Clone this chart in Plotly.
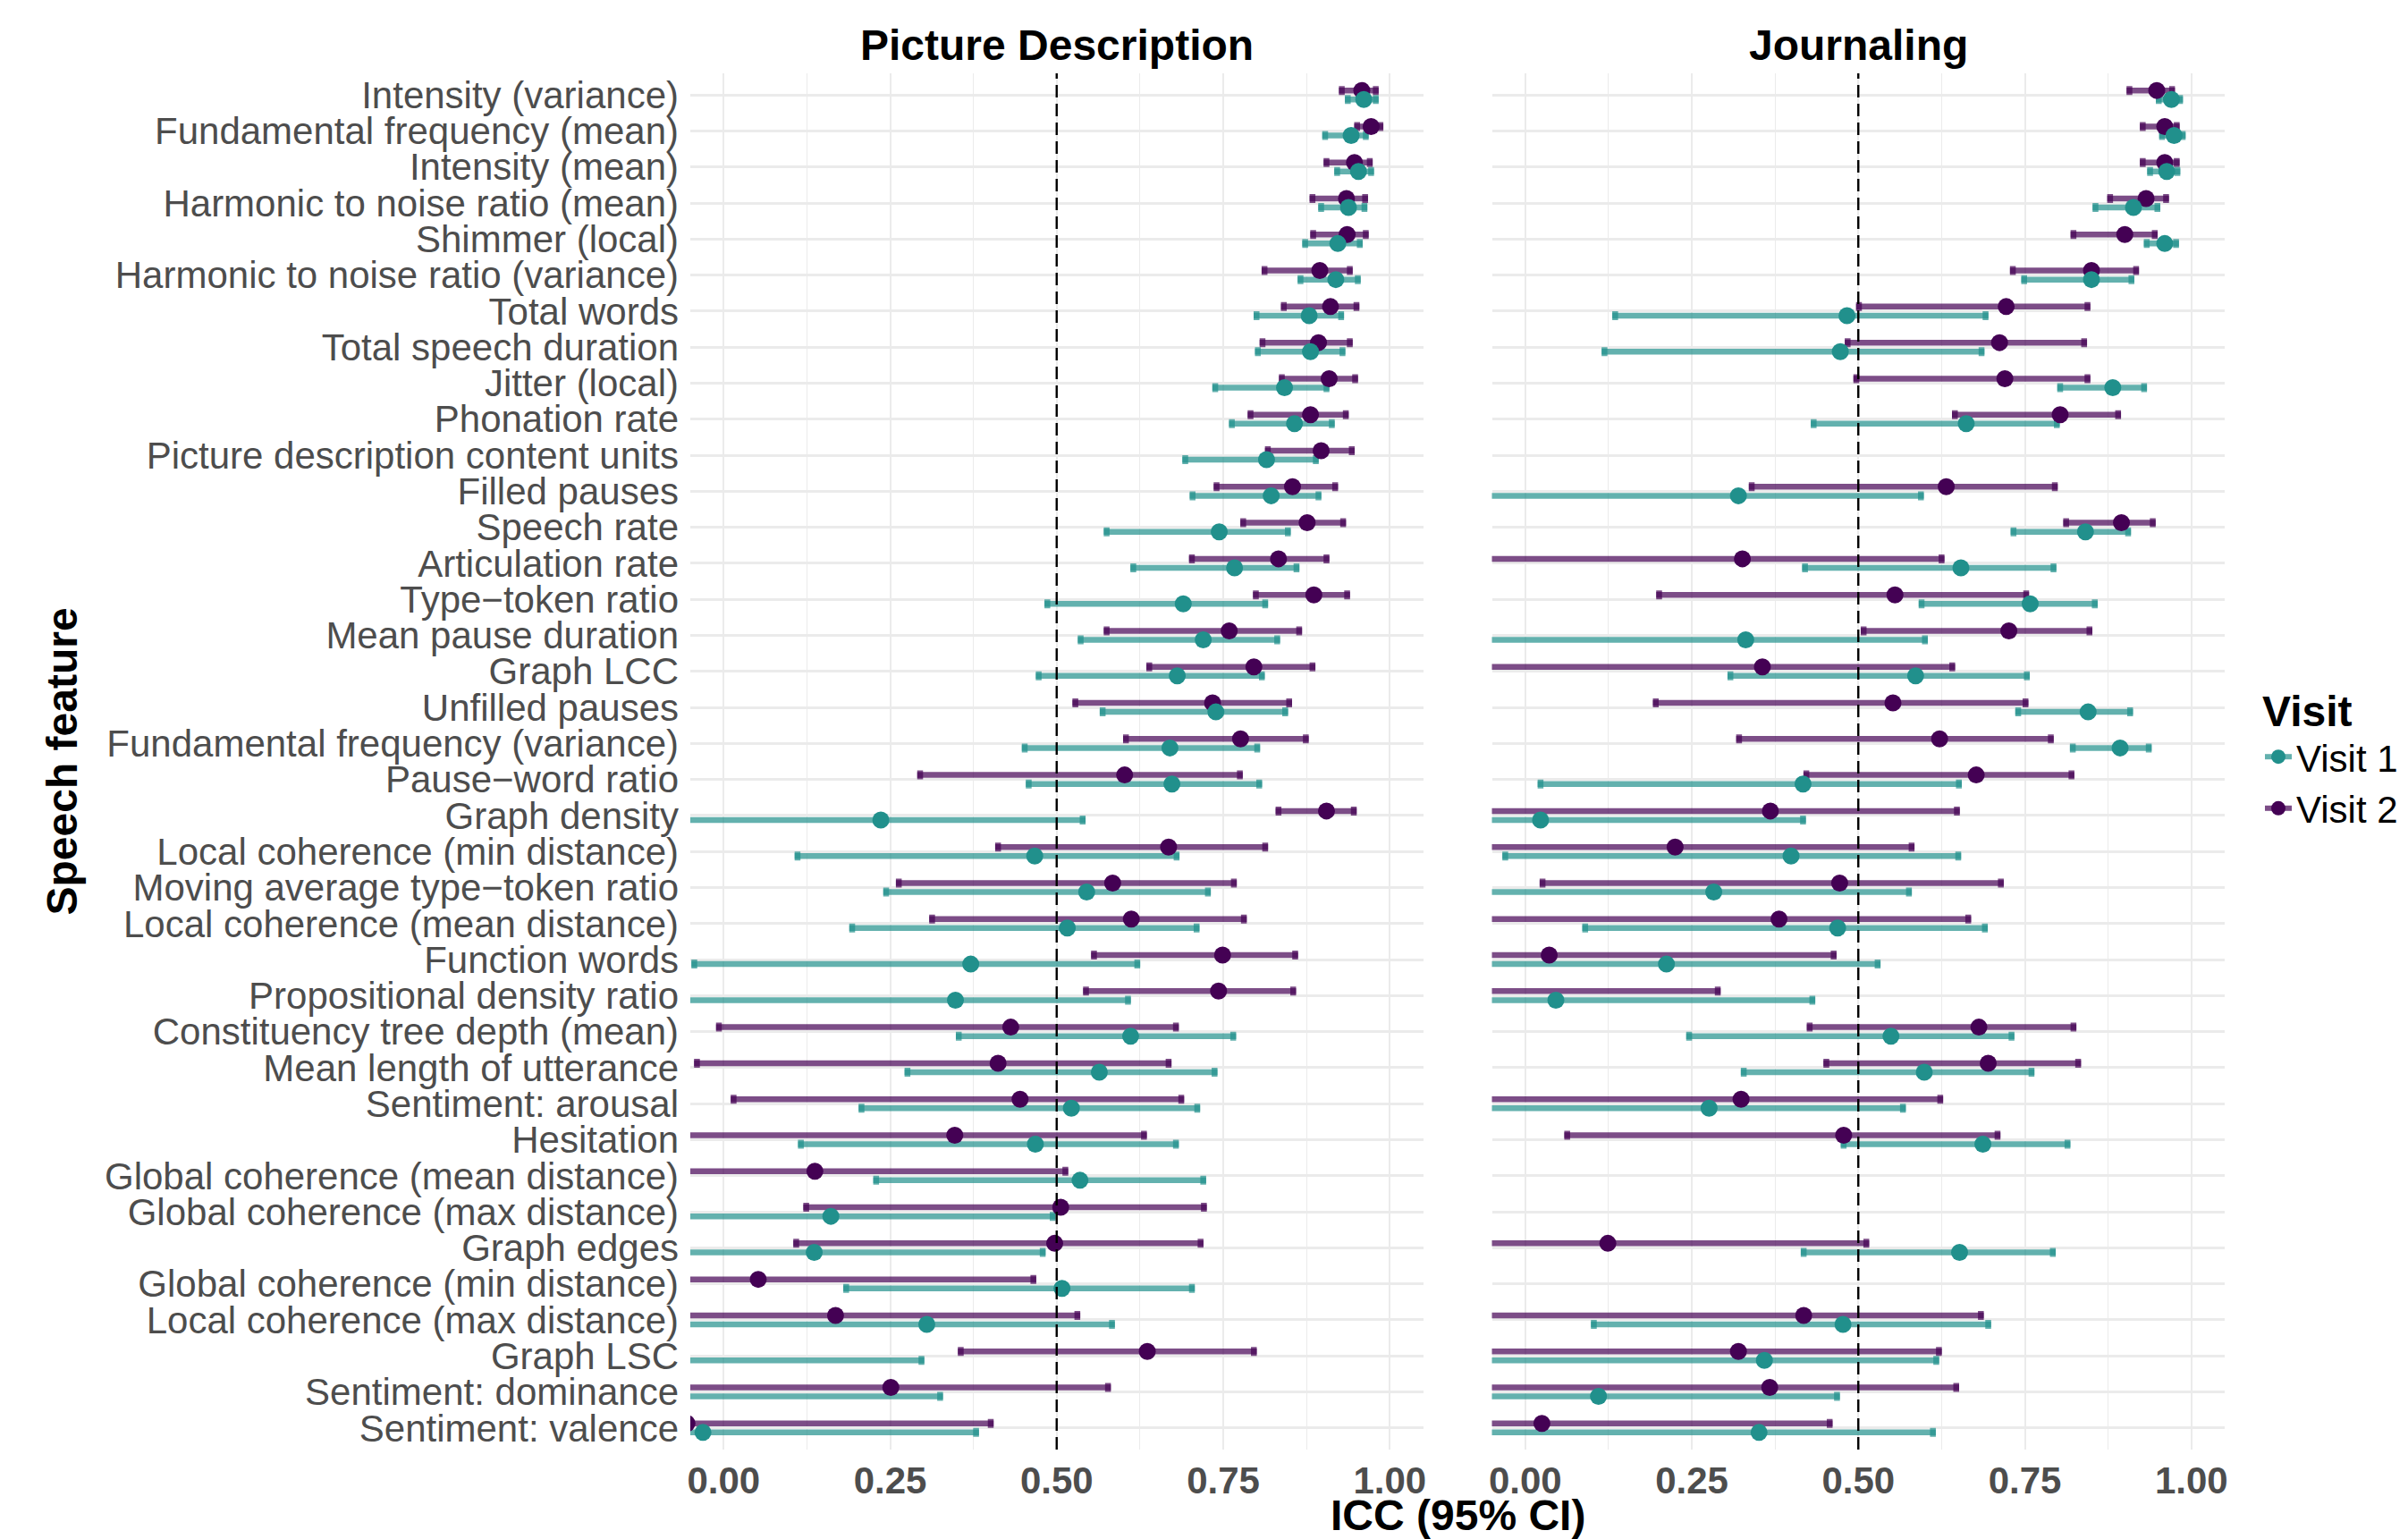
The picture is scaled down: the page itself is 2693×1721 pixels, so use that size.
import numpy as np
import plotly.graph_objects as go

features = [
    "Intensity (variance)", "Fundamental frequency (mean)", "Intensity (mean)",
    "Harmonic to noise ratio (mean)", "Shimmer (local)", "Harmonic to noise ratio (variance)",
    "Total words", "Total speech duration", "Jitter (local)", "Phonation rate",
    "Picture description content units", "Filled pauses", "Speech rate", "Articulation rate",
    "Type\u2212token ratio", "Mean pause duration", "Graph LCC", "Unfilled pauses",
    "Fundamental frequency (variance)", "Pause\u2212word ratio", "Graph density",
    "Local coherence (min distance)", "Moving average type\u2212token ratio",
    "Local coherence (mean distance)", "Function words", "Propositional density ratio",
    "Constituency tree depth (mean)", "Mean length of utterance", "Sentiment: arousal",
    "Hesitation", "Global coherence (mean distance)", "Global coherence (max distance)",
    "Graph edges", "Global coherence (min distance)", "Local coherence (max distance)",
    "Graph LSC", "Sentiment: dominance", "Sentiment: valence",
]

panels = ["Picture Description", "Journaling"]
visits = ["Visit 1", "Visit 2"]
x_ticks = [0.0, 0.25, 0.5, 0.75, 1.0]
x_tick_labels = ["0.00", "0.25", "0.50", "0.75", "1.00"]
ref_icc = 0.5

# Picture Description
pd_v1 = [0.961, 0.942, 0.953, 0.938, 0.922, 0.919, 0.879, 0.881, 0.842, 0.857, 0.815, 0.822, 0.744,
         0.767, 0.690, 0.720, 0.681, 0.739, 0.670, 0.673, 0.236, 0.467, 0.545, 0.516, 0.371, 0.348,
         0.611, 0.564, 0.522, 0.468, 0.535, 0.161, 0.136, 0.508, 0.305, -0.080, -0.070, -0.031]
pd_v1_lo = [0.937, 0.903, 0.921, 0.897, 0.873, 0.866, 0.800, 0.802, 0.738, 0.763, 0.693, 0.704, 0.575,
            0.615, 0.486, 0.536, 0.473, 0.569, 0.452, 0.458, -0.250, 0.111, 0.244, 0.193, -0.044, -0.100,
            0.353, 0.276, 0.207, 0.116, 0.229, -0.300, -0.320, 0.184, -0.150, -0.550, -0.550, -0.550]
pd_v1_hi = [0.979, 0.964, 0.972, 0.962, 0.955, 0.952, 0.927, 0.929, 0.905, 0.913, 0.889, 0.893, 0.847,
            0.860, 0.813, 0.831, 0.808, 0.843, 0.801, 0.804, 0.539, 0.680, 0.727, 0.710, 0.621, 0.607,
            0.765, 0.737, 0.711, 0.679, 0.720, 0.494, 0.479, 0.703, 0.583, 0.297, 0.325, 0.379]
pd_v2 = [0.958, 0.972, 0.947, 0.935, 0.936, 0.895, 0.911, 0.893, 0.909, 0.881, 0.897, 0.854, 0.876,
         0.833, 0.886, 0.759, 0.796, 0.734, 0.776, 0.602, 0.905, 0.668, 0.584, 0.612, 0.749, 0.743,
         0.431, 0.412, 0.445, 0.347, 0.137, 0.506, 0.497, 0.052, 0.168, 0.636, 0.251, -0.055]
pd_v2_lo = [0.928, 0.951, 0.905, 0.884, 0.885, 0.812, 0.841, 0.809, 0.838, 0.791, 0.817, 0.740, 0.780,
            0.703, 0.799, 0.575, 0.639, 0.528, 0.604, 0.295, 0.833, 0.412, 0.263, 0.313, 0.556, 0.544,
            -0.007, -0.040, 0.015, -0.120, -0.350, 0.124, 0.109, -0.450, -0.300, 0.356, -0.200, -0.600]
pd_v2_hi = [0.979, 0.986, 0.970, 0.963, 0.964, 0.940, 0.950, 0.940, 0.948, 0.934, 0.943, 0.918, 0.930,
            0.905, 0.936, 0.864, 0.884, 0.849, 0.874, 0.775, 0.946, 0.813, 0.766, 0.781, 0.858, 0.855,
            0.679, 0.668, 0.687, 0.631, 0.513, 0.721, 0.716, 0.465, 0.531, 0.796, 0.577, 0.401]

# Journaling (None = feature not available)
jr_v1 = [0.970, 0.974, 0.963, 0.913, 0.960, 0.850, 0.483, 0.473, 0.882, 0.662, None, 0.320, 0.841,
         0.654, 0.758, 0.331, 0.586, 0.845, 0.893, 0.417, 0.023, 0.399, 0.283, 0.469, 0.212, 0.046,
         0.549, 0.599, 0.276, 0.687, None, None, 0.652, None, 0.477, 0.359, 0.110, 0.351]
jr_v1_lo = [0.951, 0.956, 0.938, 0.856, 0.933, 0.749, 0.135, 0.119, 0.803, 0.433, None, -0.150, 0.733,
            0.420, 0.595, -0.150, 0.308, 0.740, 0.822, 0.023, -0.600, -0.030, -0.200, 0.090, -0.300, -0.500,
            0.246, 0.328, -0.200, 0.478, None, None, 0.418, None, 0.103, -0.120, -0.400, -0.120]
jr_v1_hi = [0.983, 0.987, 0.979, 0.949, 0.977, 0.910, 0.691, 0.685, 0.929, 0.798, None, 0.594, 0.905,
            0.793, 0.855, 0.600, 0.753, 0.908, 0.936, 0.651, 0.417, 0.650, 0.576, 0.690, 0.529, 0.431,
            0.730, 0.760, 0.567, 0.814, None, None, 0.792, None, 0.695, 0.617, 0.468, 0.612]
jr_v2 = [0.948, 0.960, 0.960, 0.932, 0.900, 0.850, 0.722, 0.712, 0.720, 0.803, None, 0.632, 0.895,
         0.326, 0.555, 0.726, 0.356, 0.552, 0.622, 0.677, 0.368, 0.225, 0.472, 0.381, 0.036, -0.070,
         0.681, 0.695, 0.324, 0.478, None, None, 0.124, None, 0.418, 0.320, 0.367, 0.025]
jr_v2_lo = [0.907, 0.927, 0.927, 0.878, 0.823, 0.732, 0.501, 0.484, 0.497, 0.645, None, 0.340, 0.812,
            -0.150, 0.201, 0.508, -0.100, 0.196, 0.321, 0.422, -0.090, -0.250, 0.026, -0.080, -0.550, -0.600,
            0.427, 0.452, -0.150, 0.063, None, None, -0.400, None, -0.070, -0.150, -0.100, -0.550]
jr_v2_hi = [0.971, 0.978, 0.978, 0.962, 0.945, 0.917, 0.844, 0.839, 0.844, 0.890, None, 0.795, 0.942,
            0.625, 0.752, 0.847, 0.641, 0.751, 0.789, 0.820, 0.648, 0.580, 0.714, 0.665, 0.463, 0.289,
            0.823, 0.830, 0.623, 0.709, None, None, 0.512, None, 0.684, 0.621, 0.647, 0.457]

TEAL = "#21908C"
PURPLE = "#440154"
TEAL_BAR = "rgba(33,144,140,0.7)"
PURPLE_BAR = "rgba(68,1,84,0.7)"
FONT = "Liberation Sans, Arial, sans-serif"
GRID = "#EBEBEB"
BAR_W = 6.5


def arr(a):
    return np.array([np.nan if v is None else v for v in a], dtype=float)


n = len(features)
ypos = np.arange(n)[::-1].astype(float)
DODGE = 0.125

panel_data = {
    "x": {"Visit 1": (pd_v1, pd_v1_lo, pd_v1_hi), "Visit 2": (pd_v2, pd_v2_lo, pd_v2_hi)},
    "x2": {"Visit 1": (jr_v1, jr_v1_lo, jr_v1_hi), "Visit 2": (jr_v2, jr_v2_lo, jr_v2_hi)},
}
style = {
    "Visit 1": (TEAL, TEAL_BAR, -DODGE),
    "Visit 2": (PURPLE, PURPLE_BAR, DODGE),
}

fig = go.Figure()

# error bars first (Visit 2 then Visit 1)
for xa in ["x", "x2"]:
    for visit in ["Visit 2", "Visit 1"]:
        v, lo, hi = (arr(a) for a in panel_data[xa][visit])
        col, barcol, off = style[visit]
        yy = ypos + off
        fig.add_trace(go.Scatter(
            x=v, y=yy, xaxis=xa, yaxis="y", mode="markers",
            marker=dict(size=1, opacity=0),
            error_x=dict(type="data", symmetric=False, array=hi - v, arrayminus=v - lo,
                         color=barcol, thickness=BAR_W, width=5),
            showlegend=False, hoverinfo="skip"))
        # overlap darkening at the caps (as in the alpha-blended original)
        fig.add_trace(go.Scatter(
            x=np.concatenate([lo, hi]), y=np.concatenate([yy, yy]), xaxis=xa, yaxis="y",
            mode="markers", marker=dict(symbol="square", size=BAR_W, color=barcol, line=dict(width=0)),
            showlegend=False, hoverinfo="skip"))

# points
for xa in ["x", "x2"]:
    for visit in ["Visit 2", "Visit 1"]:
        v, lo, hi = (arr(a) for a in panel_data[xa][visit])
        col, barcol, off = style[visit]
        fig.add_trace(go.Scatter(
            x=v, y=ypos + off, xaxis=xa, yaxis="y", mode="markers",
            marker=dict(size=19, color=col, line=dict(width=0)),
            showlegend=False, name=visit))

# legend entries
for visit in visits:
    col, barcol, off = style[visit]
    fig.add_trace(go.Scatter(
        x=[None], y=[None], mode="lines+markers", name=visit,
        marker=dict(size=16, color=col), line=dict(color=barcol, width=6)))

L, R, T, B = 772, 205, 82, 100
W, H = 2693, 1721
pw = W - L - R
ph = H - T - B
d1 = [0, (1591.5 - L) / pw]
d2 = [(1668.5 - L) / pw, 1]

xaxis_common = dict(
    range=[-0.05, 1.05], tickmode="array", tickvals=x_ticks, ticktext=x_tick_labels,
    tickfont=dict(family=FONT, size=42, color="#4D4D4D", weight="bold"),
    showgrid=True, gridcolor=GRID, gridwidth=2.4, zeroline=False, showline=False, ticks="",
    ticklabelstandoff=6,
    minor=dict(tickmode="array", tickvals=[0.125, 0.375, 0.625, 0.875], showgrid=True,
               gridcolor=GRID, gridwidth=1.2, ticks=""),
    anchor="y",
)

fig.update_layout(
    width=W, height=H,
    margin=dict(l=L, r=R, t=T, b=B, autoexpand=False),
    paper_bgcolor="white", plot_bgcolor="white",
    font=dict(family=FONT, color="black"),
    xaxis=dict(domain=d1, **xaxis_common),
    xaxis2=dict(domain=d2, **xaxis_common),
    yaxis=dict(range=[-0.6, n - 0.4], tickmode="array", tickvals=ypos, ticktext=features,
               tickfont=dict(family=FONT, size=42, color="#4D4D4D"),
               showgrid=True, gridcolor=GRID, gridwidth=2.6, zeroline=False, showline=False,
               ticks="", ticklabelstandoff=12, domain=[0, 1]),
    showlegend=True,
    legend=dict(x=(2528 - L) / pw, xanchor="left", y=(H - B - 750) / ph, yanchor="top",
                title=dict(text="<b>Visit</b>", font=dict(family=FONT, size=48, color="black")),
                font=dict(family=FONT, size=42, color="black"),
                bgcolor="rgba(0,0,0,0)", borderwidth=0, tracegroupgap=0),
)

for xa in ["x", "x2"]:
    fig.add_shape(type="line", xref=xa, yref="y domain", x0=ref_icc, x1=ref_icc, y0=0, y1=1,
                  line=dict(color="black", width=2.4, dash="14px,7px"), layer="above")

strip_y = 1 + (T - 50) / ph
for name, dom in zip(panels, [d1, d2]):
    fig.add_annotation(text=f"<b>{name}</b>", x=(dom[0] + dom[1]) / 2, y=strip_y,
                       xref="paper", yref="paper", showarrow=False, xanchor="center", yanchor="middle",
                       font=dict(family=FONT, size=48, color="black"))

fig.add_annotation(text="<b>ICC (95% CI)</b>", x=(1630 - L) / pw, y=-(1694 - (H - B)) / ph,
                   xref="paper", yref="paper", showarrow=False, xanchor="center", yanchor="middle",
                   font=dict(family=FONT, size=48, color="black"))
fig.add_annotation(text="<b>Speech feature</b>", x=(69 - L) / pw, y=0.5, textangle=-90,
                   xref="paper", yref="paper", showarrow=False, xanchor="center", yanchor="middle",
                   font=dict(family=FONT, size=48, color="black"))

fig.write_html("out.html", config={"displayModeBar": False},
               post_script="document.body.style.margin='0px';document.body.style.overflow='hidden';")
